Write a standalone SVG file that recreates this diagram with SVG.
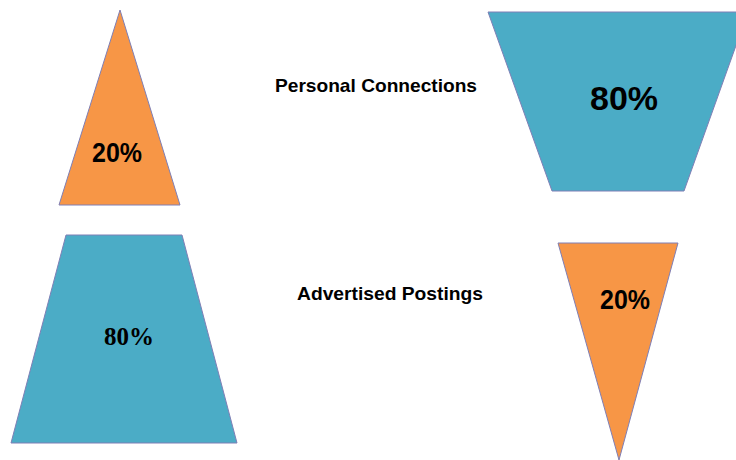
<svg xmlns="http://www.w3.org/2000/svg" width="736" height="460" viewBox="0 0 736 460">
  <style>
    .orange { fill: #F79646; stroke: #7F7FB5; stroke-width: 1; }
    .blue { fill: #4BACC6; stroke: #7F7FB5; stroke-width: 1; }
    .pct { font-family: "Liberation Sans", Arial, sans-serif; font-weight: bold; fill: #000; text-anchor: middle; }
    .pct-serif { font-family: "Liberation Serif", "Times New Roman", serif; font-weight: bold; fill: #000; text-anchor: middle; }
    .label { font-family: "Liberation Sans", Arial, sans-serif; font-weight: bold; font-size: 18.5px; fill: #000; }
  </style>
  <rect width="736" height="460" fill="#FFFFFF"/>

  <!-- Left column: job search effort -->
  <g id="effort-connections">
    <polygon class="orange" points="120,10 180,205 59,205"/>
    <text class="pct" x="117" y="162" font-size="27" textLength="50" lengthAdjust="spacingAndGlyphs">20%</text>
  </g>
  <g id="effort-postings">
    <polygon class="blue" points="66,235 182,235 237,443 11,443"/>
    <text class="pct-serif" x="129" y="345" font-size="26" textLength="50" lengthAdjust="spacingAndGlyphs">80%</text>
  </g>

  <!-- Centre labels -->
  <g id="label-connections">
    <text class="label" x="275" y="92" textLength="202" lengthAdjust="spacingAndGlyphs">Personal Connections</text>
  </g>
  <g id="label-postings">
    <text class="label" x="297" y="300" textLength="186" lengthAdjust="spacingAndGlyphs">Advertised Postings</text>
  </g>

  <!-- Right column: jobs found -->
  <g id="result-connections">
    <polygon class="blue" points="488,12 748,12 684,191 552,191"/>
    <text class="pct" x="624" y="110" font-size="34">80%</text>
  </g>
  <g id="result-postings">
    <polygon class="orange" points="558,243 678,243 619,460"/>
    <text class="pct" x="625" y="309" font-size="27" textLength="50" lengthAdjust="spacingAndGlyphs">20%</text>
  </g>

  <g id="connectors"/>
</svg>
